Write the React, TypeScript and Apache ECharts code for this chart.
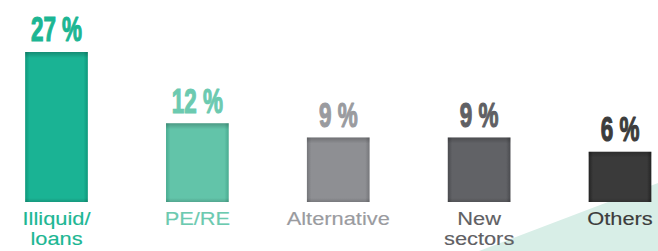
import React, { useEffect, useRef } from "react";
import * as echarts from "echarts";

const categories = ["Illiquid/\nloans", "PE/RE", "Alternative", "New\nsectors", "Others"];
const shares = [27, 12, 9, 9, 6];
const barColors = ["#1ab394", "#62c4a9", "#8e8f93", "#616266", "#3a3a3a"];
const barEdgeColors = ["#0e987b", "#48ab90", "#75767a", "#4a4b4f", "#242424"];
const labelColors = ["#1cb693", "#6ccab0", "#9a9b9f", "#5f6064", "#3c3c3c"];

const Y_MIN = -4.6;
const Y_MAX = 35;

export default function App() {
  const ref = useRef<HTMLDivElement>(null);
  useEffect(() => {
    if (!ref.current) return;
    const chart = echarts.init(ref.current, undefined, { renderer: "svg" });
    chart.setOption({
      animation: false,
      backgroundColor: "#ffffff",
      grid: { left: 56.5, right: 38, top: 14, bottom: 49 },
      xAxis: {
        type: "category",
        data: categories,
        boundaryGap: false,
        show: false,
      },
      yAxis: { type: "value", min: Y_MIN, max: Y_MAX, show: false },
      graphic: [
        {
          type: "polygon",
          z: -10,
          silent: true,
          shape: { points: [[479, 251], [658, 183], [658, 251]] },
          style: { fill: "#d8eee7" },
        },
      ],
      series: [
        {
          type: "custom",
          z: 5,
          data: shares.map((v, i) => [i, v]),
          renderItem: (params: any, api: any) => {
            const i = params.dataIndex;
            const v = api.value(1);
            const top = api.coord([i, v]);
            const base = api.coord([i, Y_MIN]);
            const p0 = api.coord([0, 0]);
            const p1 = api.coord([1, 0]);
            const step = p1[0] - p0[0];
            const w = step * 0.445;
            const x0 = top[0] - w / 2;
            const h = base[1] - top[1];
            const shape = { x: x0, y: top[1], width: w, height: h };
            return {
              type: "group",
              children: [
                {
                  type: "rect",
                  shape,
                  style: {
                    fill: new echarts.graphic.LinearGradient(0, 0, 1, 0, [
                      { offset: 0, color: barEdgeColors[i] },
                      { offset: 0.07, color: barColors[i] },
                      { offset: 0.93, color: barColors[i] },
                      { offset: 1, color: barEdgeColors[i] },
                    ]),
                  },
                },
                {
                  type: "rect",
                  shape,
                  style: {
                    fill: new echarts.graphic.LinearGradient(0, 0, 0, 1, [
                      { offset: 0, color: "rgba(0,0,0,0.22)" },
                      { offset: Math.min(0.5, 6 / h), color: "rgba(0,0,0,0)" },
                      { offset: 1 - Math.min(0.5, 4 / h), color: "rgba(0,0,0,0)" },
                      { offset: 1, color: "rgba(0,0,0,0.15)" },
                    ]),
                  },
                },
                {
                  type: "text",
                  x: top[0],
                  y: top[1] - 22.5,
                  scaleX: 0.66,
                  scaleY: 1.02,
                  style: {
                    text: `${v} %`,
                    fill: labelColors[i],
                    stroke: labelColors[i],
                    lineWidth: 1.2,
                    font: 'bold 34px "Liberation Sans", Arial, sans-serif',
                    align: "center",
                    verticalAlign: "middle",
                  },
                },
                {
                  type: "text",
                  x: top[0],
                  y: base[1] + 6.6,
                  scaleX: 1.18,
                  style: {
                    text: categories[i],
                    fill: labelColors[i],
                    stroke: labelColors[i],
                    lineWidth: 0.15,
                    font: '18.5px "Liberation Sans", Arial, sans-serif',
                    lineHeight: 20,
                    align: "center",
                    verticalAlign: "top",
                  },
                },
              ],
            };
          },
        },
      ],
    });
    return () => chart.dispose();
  }, []);
  return (
    <div
      ref={ref}
      style={{ position: "absolute", left: 0, top: 0, width: 658, height: 251 }}
    />
  );
}
